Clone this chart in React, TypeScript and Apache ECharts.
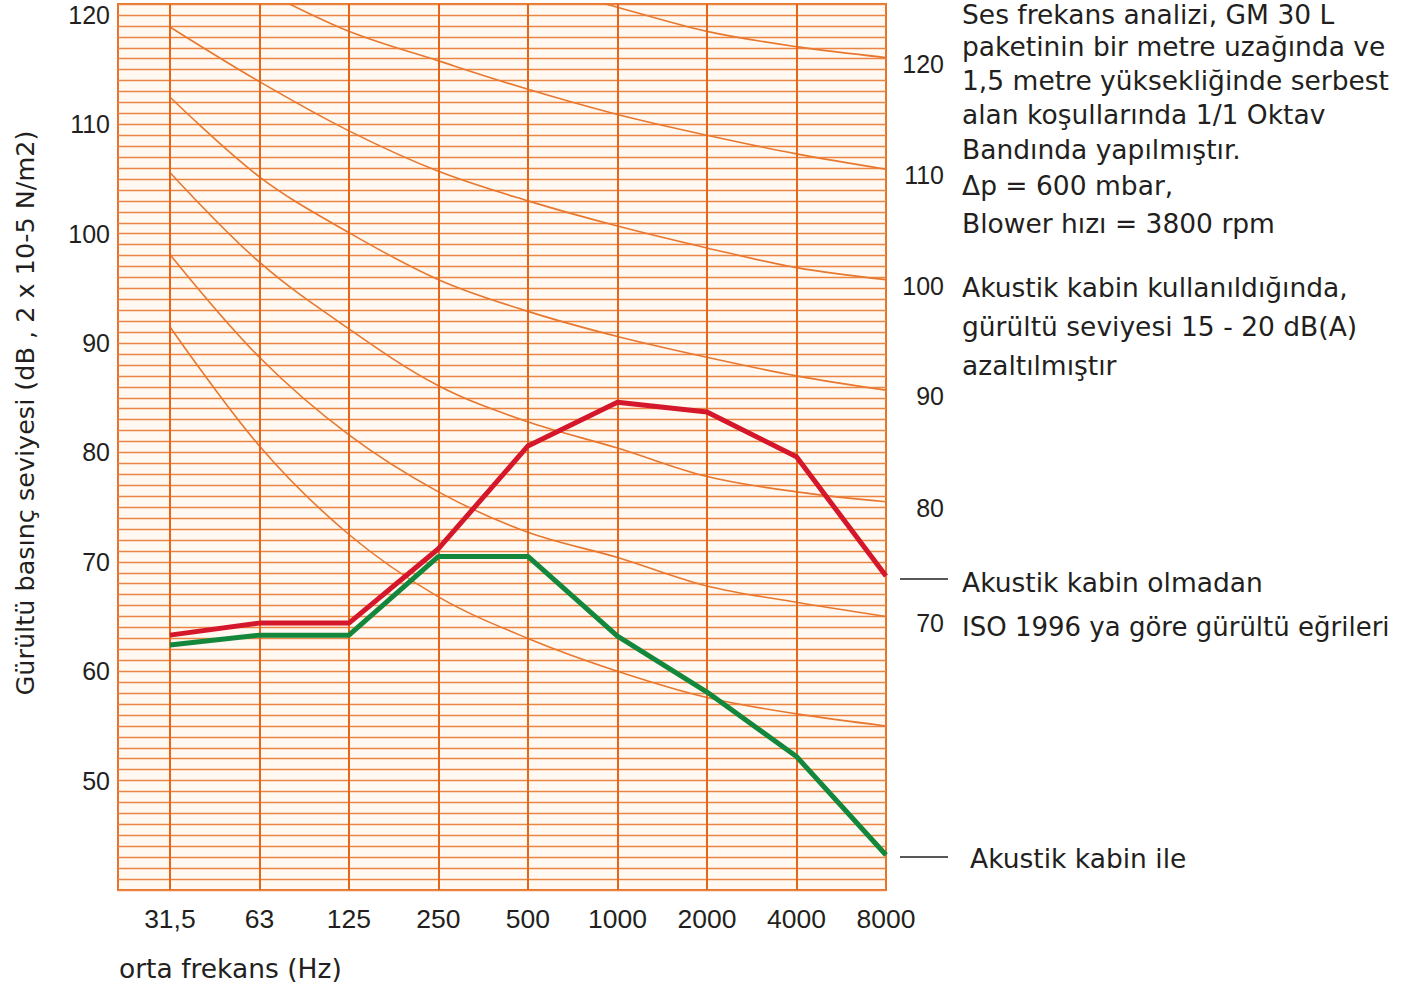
import React, { useEffect, useRef } from "react";
import * as echarts from "echarts";

const freqLabels = ["31,5", "63", "125", "250", "500", "1000", "2000", "4000", "8000"];

const withoutCabin = [63.3, 64.4, 64.4, 71.2, 80.6, 84.6, 83.7, 79.6, 68.7];
const withCabin = [62.4, 63.3, 63.3, 70.5, 70.5, 63.2, 58.1, 52.2, 43.2];

const nr120 = [null, null, null, null, 123.0, 120.7, 118.5, 117.1, 116.1];
const nr110 = [null, 122.4, 118.5, 115.8, 113.2, 110.9, 109.0, 107.3, 105.9];
const nr100 = [118.9, 113.9, 109.4, 105.7, 103.0, 100.7, 98.7, 96.9, 95.8];
const nr90 = [112.5, 105.2, 100.1, 95.8, 92.9, 90.6, 88.7, 87.0, 85.7];
const nr80 = [105.6, 97.4, 91.3, 86.1, 82.8, 80.4, 77.8, 76.4, 75.5];
const nr70 = [98.1, 88.7, 81.6, 76.4, 72.7, 70.4, 67.8, 66.3, 65.0];
const nr60 = [91.5, 80.6, 72.5, 66.8, 63.0, 60.0, 57.6, 56.1, 55.0];

const nrCurves = [nr120, nr110, nr100, nr90, nr80, nr70, nr60];
const nrLabels = ["120", "110", "100", "90", "80", "70", ""];

const yTickLabels = [50, 60, 70, 80, 90, 100, 110, 120];

const infoLines = [
  { t: "Ses frekans analizi, GM 30 L", y: 14 },
  { t: "paketinin bir metre uzağında ve", y: 46 },
  { t: "1,5 metre yüksekliğinde serbest", y: 80 },
  { t: "alan koşullarında 1/1 Oktav", y: 114 },
  { t: "Bandında yapılmıştır.", y: 149 },
  { t: "Δp = 600 mbar,", y: 185 },
  { t: "Blower hızı = 3800 rpm", y: 223 },
  { t: "Akustik kabin kullanıldığında,", y: 287 },
  { t: "gürültü seviyesi 15 - 20 dB(A)", y: 326 },
  { t: "azaltılmıştır", y: 365 },
  { t: "Akustik kabin olmadan", y: 582 },
  { t: "ISO 1996 ya göre gürültü eğrileri", y: 627 },
];

const NUMFONT = '"Liberation Sans", Arial, Helvetica, sans-serif';
const WORDFONT = '"DejaVu Sans", "Liberation Sans", sans-serif';
const WORDSIZE = 26.5;
const TEXT = "#231f20";
const ORANGE = "#e8772f";
const GRID_ORANGE = "#ea8544";
const VLINE = "#e2661c";

const toPts = (arr: (number | null)[]) => arr.map((v, i) => [i, v]);

export default function App() {
  const ref = useRef<HTMLDivElement>(null);
  useEffect(() => {
    if (!ref.current) return;
    const chart = echarts.init(ref.current, null, { renderer: "svg" });
    const idx = freqLabels.map((_, i) => i);

    const nrSeries: any[] = nrCurves.map((c, k) => ({
      type: "line",
      name: "NR" + nrLabels[k],
      data: toPts(c),
      smooth: 0.35,
      symbol: "none",
      silent: true,
      z: 3,
      lineStyle: { color: ORANGE, width: 1.6 },
      endLabel: nrLabels[k]
        ? {
            show: true,
            formatter: nrLabels[k],
            distance: 58,
            align: "right",
            verticalAlign: "middle",
            offset: [0, 6],
            color: TEXT,
            fontSize: 25,
            fontFamily: NUMFONT,
          }
        : { show: false },
      markLine:
        k === 0
          ? {
              silent: true,
              symbol: "none",
              label: { show: false },
              lineStyle: { color: VLINE, width: 2, type: "solid" },
              data: idx.slice(0, 8).map((i) => ({ xAxis: i })),
            }
          : undefined,
    }));

    const wordText = (t: string, x: number, y: number, size = WORDSIZE) => ({
      type: "text",
      x,
      y,
      silent: true,
      style: {
        text: t,
        fill: TEXT,
        fontSize: size,
        fontFamily: WORDFONT,
        textAlign: "left",
        textVerticalAlign: "middle",
      },
    });

    const option: any = {
      animation: false,
      backgroundColor: "#ffffff",
      grid: {
        left: 118,
        right: 523,
        top: 4,
        bottom: 100,
        show: true,
        backgroundColor: "#fff9f1",
        borderColor: "#e8732a",
        borderWidth: 2,
      },
      xAxis: {
        type: "value",
        min: -0.58,
        max: 8,
        splitLine: { show: false },
        axisLine: { show: false },
        axisTick: { show: false },
        axisLabel: {
          customValues: idx,
          formatter: (v: number) => freqLabels[Math.round(v)] ?? "",
          color: TEXT,
          fontSize: 26.5,
          fontFamily: NUMFONT,
          margin: 15,
        },
      },
      yAxis: {
        type: "value",
        min: 40,
        max: 121,
        interval: 1,
        axisLine: { show: false },
        axisTick: { show: false },
        splitLine: { show: true, lineStyle: { color: GRID_ORANGE, width: 1.3 } },
        axisLabel: {
          formatter: (v: number) => (yTickLabels.includes(v) ? String(v) : ""),
          color: TEXT,
          fontSize: 25,
          fontFamily: NUMFONT,
          margin: 8,
          showMinLabel: true,
          showMaxLabel: true,
        },
      },
      series: [
        ...nrSeries,
        {
          type: "line",
          name: "Akustik kabin olmadan",
          data: toPts(withoutCabin),
          symbol: "none",
          z: 5,
          lineStyle: { color: "#d5172b", width: 5 },
        },
        {
          type: "line",
          name: "Akustik kabin ile",
          data: toPts(withCabin),
          symbol: "none",
          z: 5,
          lineStyle: { color: "#13883d", width: 5 },
        },
      ],
      graphic: [
        ...infoLines.map((l, i) =>
          wordText(l.t, 962, l.y, i === infoLines.length - 1 ? 26 : WORDSIZE)
        ),
        wordText("Akustik kabin ile", 970, 858),
        {
          type: "line",
          silent: true,
          shape: { x1: 900, y1: 579, x2: 948, y2: 579 },
          style: { stroke: TEXT, lineWidth: 1.5 },
        },
        {
          type: "line",
          silent: true,
          shape: { x1: 900, y1: 857, x2: 948, y2: 857 },
          style: { stroke: TEXT, lineWidth: 1.5 },
        },
        wordText("orta frekans (Hz)", 119, 968),
        {
          type: "text",
          x: 25,
          y: 413,
          rotation: Math.PI / 2,
          silent: true,
          style: {
            text: "Gürültü basınç seviyesi (dB , 2 x 10-5 N/m2)",
            fill: TEXT,
            fontSize: 25.5,
            fontFamily: WORDFONT,
            textAlign: "center",
            textVerticalAlign: "middle",
          },
        },
      ],
    };
    chart.setOption(option);
    return () => chart.dispose();
  }, []);

  return (
    <div
      ref={ref}
      style={{ position: "absolute", left: 0, top: 0, width: 1409, height: 990, background: "#fff" }}
    />
  );
}
